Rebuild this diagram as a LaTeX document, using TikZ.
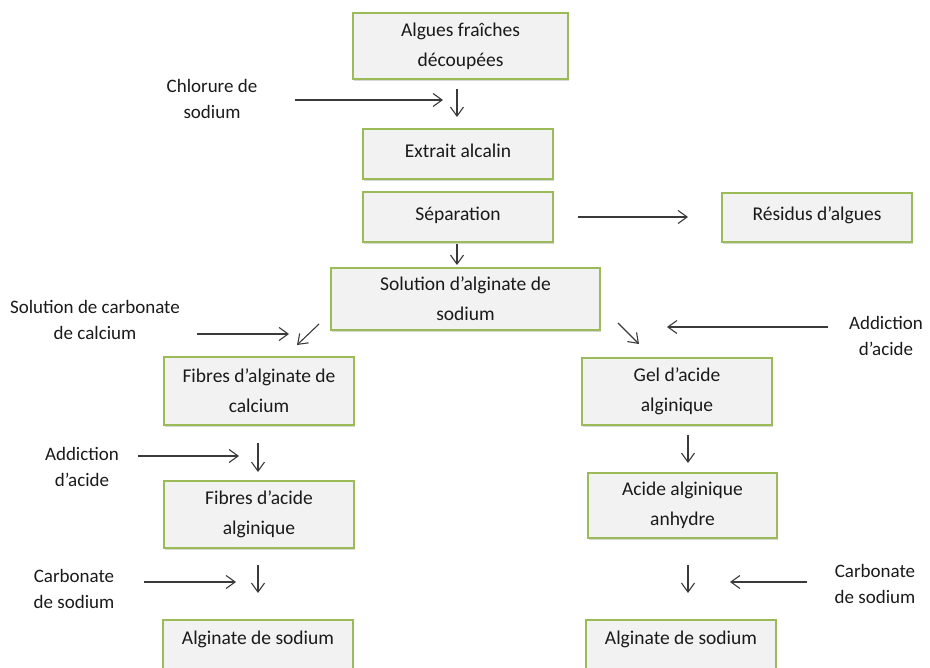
\documentclass[tikz,border=0pt]{standalone}
\usepackage{fontspec}
\setmainfont{Carlito}
\usetikzlibrary{arrows.meta,shadows}
\definecolor{boxfill}{HTML}{F2F2F2}
\definecolor{boxline}{HTML}{9BBB59}
\definecolor{arrowcol}{HTML}{3A3A3A}
\definecolor{txt}{HTML}{1A1A1A}
\begin{document}
\begin{tikzpicture}[x=1pt,y=-1pt,
  box/.style={draw=boxline, line width=1.3pt, fill=boxfill, text=txt,
    align=center, inner sep=0pt, font=\fontsize{19.5}{30}\selectfont,
    drop shadow={shadow xshift=1.2pt, shadow yshift=-2pt, opacity=0.35, fill=black!45}},
  onebox/.style={box, text height=13pt, text depth=6pt},
  lbl/.style={align=center, text=txt, inner sep=0pt, font=\fontsize{19}{26}\selectfont},
  arr/.style={draw=arrowcol, line width=1.1pt, -{Straight Barb[length=9pt,width=13pt]}}
]
\useasboundingbox (0,0) rectangle (930,668);
\clip (0,0) rectangle (930,668);

% boxes
\node[box, minimum width=215pt, minimum height=66pt] (alg) at (460.5,46) {Algues fraîches\\découpées};
\node[onebox, minimum width=190pt, minimum height=50pt] (ext) at (458,154) {Extrait alcalin};
\node[onebox, minimum width=190pt, minimum height=50pt] (sep) at (458,217) {Séparation};
\node[onebox, minimum width=190pt, minimum height=49pt] (res) at (817,217.5) {Résidus d’algues};
\node[box, minimum width=269pt, minimum height=62pt] (sol) at (465.5,299) {Solution d’alginate de\\sodium};
\node[box, minimum width=190pt, minimum height=68pt] (fca) at (259,391) {Fibres d’alginate de\\calcium};
\node[box, minimum width=190pt, minimum height=67pt] (gel) at (677,391.5) {Gel d’acide\\alginique};
\node[box, minimum width=190pt, minimum height=67pt] (fac) at (259,514.5) {Fibres d’acide\\alginique};
\node[box, minimum width=189pt, minimum height=65pt] (aca) at (682.5,505.5) {Acide alginique\\anhydre};
\node[box, minimum width=190pt, minimum height=66pt] (asl) at (258,653) {Alginate de sodium\\\mbox{}};
\node[box, minimum width=190pt, minimum height=66pt] (asr) at (681,653) {Alginate de sodium\\\mbox{}};

% labels
\node[lbl] (chl) at (212,99) {Chlorure de\\sodium};
\node[lbl] (scc) at (95,320) {Solution de carbonate\\de calcium};
\node[lbl] (aad1) at (886,335.5) {Addiction\\d’acide};
\node[lbl] (aad2) at (82,466.5) {Addiction\\d’acide};
\node[lbl] (cs1) at (74,589) {Carbonate\\de sodium};
\node[lbl] (cs2) at (875,583.5) {Carbonate\\de sodium};

% arrow end points
\coordinate (a1s) at (295,100);  \coordinate (a1e) at (443,100);
\coordinate (d1s) at (457,89);   \coordinate (d1e) at (457,117);
\coordinate (r1s) at (578,217);  \coordinate (r1e) at (688,217);
\coordinate (d2s) at (457,244);  \coordinate (d2e) at (457,265);
\coordinate (a2s) at (197,334);  \coordinate (a2e) at (289,334);
\coordinate (g1s) at (319,324);  \coordinate (g1e) at (297,345);
\coordinate (g2s) at (618,323);  \coordinate (g2e) at (639,344);
\coordinate (a3s) at (828,327);  \coordinate (a3e) at (667,327);
\coordinate (a4s) at (138,456);  \coordinate (a4e) at (239,456);
\coordinate (d3s) at (258,443);  \coordinate (d3e) at (258,472);
\coordinate (d4s) at (688,435);  \coordinate (d4e) at (688,463);
\coordinate (a5s) at (144,582);  \coordinate (a5e) at (236,582);
\coordinate (d5s) at (258,565);  \coordinate (d5e) at (258,593);
\coordinate (d6s) at (688,565);  \coordinate (d6e) at (688,593);
\coordinate (a6s) at (807,582);  \coordinate (a6e) at (730,582);

\foreach \s/\e in {a1s/a1e, d1s/d1e, r1s/r1e, d2s/d2e, a2s/a2e, g1s/g1e, g2s/g2e,
                   a3s/a3e, a4s/a4e, d3s/d3e, d4s/d4e, a5s/a5e, d5s/d5e, d6s/d6e, a6s/a6e}
  \draw[arr] (\s) -- (\e);
\end{tikzpicture}
\end{document}
